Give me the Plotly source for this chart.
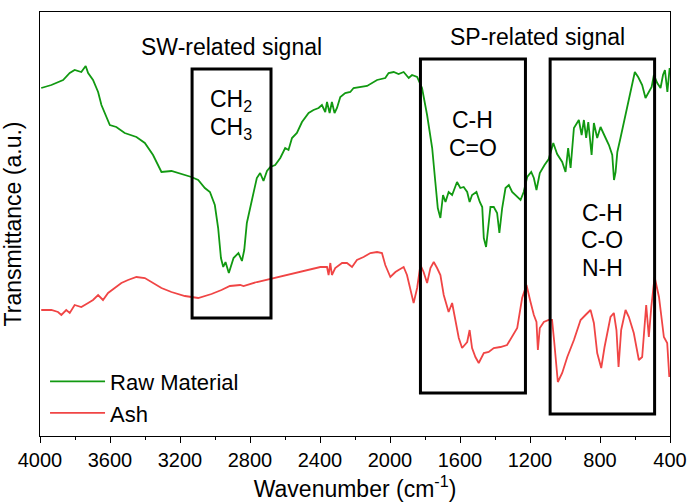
import plotly.graph_objects as go

# Raw Material (green) spectrum: wavenumber (cm-1) and transmittance (a.u.)
raw_wn = [3993, 3935, 3868, 3830, 3802, 3764, 3739, 3725, 3697, 3668, 3649, 3630, 3601, 3564,
          3516, 3449, 3401, 3354, 3306, 3249, 3211, 3135, 3096, 3058, 3029, 3001, 2982, 2966,
          2953, 2940, 2921, 2894, 2866, 2846, 2833, 2818, 2789, 2761, 2742, 2723, 2703, 2684,
          2656, 2627, 2599, 2580, 2560, 2532, 2503, 2465, 2437, 2408, 2389, 2370, 2360, 2345,
          2332, 2317, 2303, 2284, 2256, 2227, 2208, 2160, 2131, 2074, 2027, 2008, 1979, 1951,
          1922, 1893, 1874, 1845, 1817, 1788, 1759, 1741, 1727, 1712, 1697, 1683, 1665, 1645,
          1617, 1598, 1579, 1559, 1545, 1531, 1506, 1487, 1473, 1464, 1451, 1439, 1426, 1407,
          1388, 1375, 1359, 1340, 1321, 1302, 1273, 1254, 1236, 1216, 1193, 1178, 1163, 1144,
          1117, 1093, 1067, 1045, 1016, 997, 982, 968, 949, 921, 905, 892, 879, 867, 848, 835,
          816, 797, 768, 749, 730, 720, 711, 701, 683, 654, 626, 601, 582, 559, 540, 521, 505,
          492, 473, 454, 440, 429, 415, 402]
raw_t = [348, 351, 356, 363, 366, 364, 370, 363, 356, 344, 331, 323, 311, 309,
         303, 299, 293, 281, 264, 265, 263, 259, 256, 248, 244, 231, 208, 178,
         169, 174, 163, 178, 183, 175, 186, 213, 236, 258, 263, 255, 265, 269,
         271, 278, 288, 286, 298, 303, 314, 323, 326, 328, 331, 324, 334, 323,
         334, 323, 328, 339, 343, 344, 348, 349, 350, 356, 358, 363, 364, 362,
         364, 358, 361, 359, 348, 321, 288, 254, 228, 218, 241, 234, 244, 241,
         254, 248, 249, 244, 234, 241, 244, 234, 229, 198, 189, 208, 229, 229,
         223, 203, 228, 248, 251, 244, 239, 236, 244, 259, 264, 258, 246, 263,
         271, 277, 293, 282, 274, 264, 288, 268, 308, 316, 301, 316, 298, 314, 281, 313,
         298, 309, 298, 291, 281, 256, 264, 284, 298, 321, 344, 364, 359, 351, 338, 344, 349,
         361, 353, 348, 361, 366, 344, 368]

# Ash (red) spectrum
ash_wn = [3993, 3935, 3897, 3878, 3850, 3830, 3802, 3764, 3725, 3697, 3668, 3640, 3611, 3573,
          3535, 3497, 3449, 3401, 3354, 3306, 3249, 3172, 3096, 3020, 2963, 2915, 2856, 2837,
          2760, 2684, 2608, 2532, 2456, 2398, 2360, 2351, 2341, 2332, 2313, 2274, 2246, 2217,
          2189, 2151, 2112, 2074, 2046, 2027, 1998, 1969, 1951, 1922, 1903, 1884, 1865, 1845,
          1826, 1808, 1788, 1769, 1750, 1731, 1712, 1693, 1665, 1645, 1626, 1607, 1588, 1559,
          1545, 1531, 1512, 1493, 1464, 1436, 1407, 1369, 1331, 1302, 1273, 1245, 1220, 1197,
          1178, 1163, 1155, 1144, 1121, 1093, 1074, 1061, 1041, 1016, 987, 949, 911, 883, 854,
          835, 816, 793, 774, 740, 721, 706, 694, 679, 654, 635, 607, 578, 559, 536, 521, 507,
          488, 463, 435, 416, 404]
ash_t = [126, 126, 124, 121, 126, 123, 131, 129, 133, 136, 141, 136, 143, 148,
         153, 156, 159, 158, 153, 148, 144, 140, 138, 142, 146, 150, 151, 150,
         154, 157, 160, 163, 166, 169, 169, 161, 173, 161, 168, 173, 173, 169,
         176, 179, 183, 184, 183, 171, 159, 164, 166, 169, 161, 148, 133, 148,
         171, 164, 153, 168, 174, 168, 161, 141, 124, 133, 114, 98, 88, 94,
         106, 88, 79, 73, 83, 84, 88, 89, 91, 99, 108, 138, 151, 134,
         121, 114, 86, 108, 114, 116, 116, 93, 54, 63, 79, 96, 116, 121, 126,
         113, 83, 68, 89, 119, 123, 106, 69, 106, 126, 119, 103, 76, 79, 131, 99, 129,
         159, 139, 99, 93, 59]

x_ticks = [4000, 3600, 3200, 2800, 2400, 2000, 1600, 1200, 800, 400]

FONT = "Arial, Liberation Sans, sans-serif"

fig = go.Figure()
fig.add_trace(go.Scatter(x=raw_wn, y=raw_t, mode="lines", name="Raw Material",
                         line=dict(color="#119911", width=1.8)))
fig.add_trace(go.Scatter(x=ash_wn, y=ash_t, mode="lines", name="Ash",
                         line=dict(color="#f04545", width=1.8)))

# highlight boxes
boxes = [(3131, 2680, 118, 367), (1826, 1226, 43, 377), (1085, 488, 22, 377)]
for x0, x1, y0, y1 in boxes:
    fig.add_shape(type="rect", xref="x", yref="y", x0=x0, x1=x1, y0=y0, y1=y1,
                  line=dict(color="black", width=3), fillcolor="rgba(0,0,0,0)")

annots = [
    (2906, 389, "SW-related signal"),
    (1160, 399, "SP-related signal"),
    (2906, 336, "CH<sub>2</sub>"),
    (2906, 308, "CH<sub>3</sub>"),
    (1526, 316, "C-H"),
    (1526, 288, "C=O"),
    (786, 223, "C-H"),
    (786, 196, "C-O"),
    (786, 168, "N-H"),
]
for ax, ay, t in annots:
    fig.add_annotation(x=ax, y=ay, xref="x", yref="y", text=t, showarrow=False,
                       font=dict(family=FONT, size=23, color="black"))

fig.update_layout(
    width=688, height=502,
    margin=dict(l=40, r=18, t=12, b=66),
    paper_bgcolor="white", plot_bgcolor="white",
    font=dict(family=FONT, color="black"),
    showlegend=True,
    legend=dict(x=0.008, y=0.178, xanchor="left", yanchor="top",
                font=dict(family=FONT, size=22, color="black"),
                bgcolor="rgba(0,0,0,0)", itemwidth=55, tracegroupgap=0),
)
fig.update_xaxes(
    range=[4000, 400], tickvals=x_ticks, ticks="outside", ticklen=6, tickwidth=1.2,
    tickcolor="black", tickfont=dict(family=FONT, size=20, color="black"),
    showline=True, linecolor="black", linewidth=1.2, mirror=True, showgrid=False,
    zeroline=False, automargin=False,
    minor=dict(dtick=200, tick0=400, ticks="outside", ticklen=3, tickcolor="black", showgrid=False),
    title=dict(text="Wavenumber (cm<sup>-1</sup>)", font=dict(family=FONT, size=23, color="black")),
)
fig.update_yaxes(
    range=[0, 424], showticklabels=False, ticks="", showgrid=False, zeroline=False,
    showline=True, linecolor="black", linewidth=1.2, mirror=True, automargin=True,
    title=dict(text="Transmittance (a.u.)", font=dict(family=FONT, size=23, color="black"),
               standoff=10),
)

fig.write_html("out.html", config={"displayModeBar": False},
               post_script="document.body.style.margin='0px';")
